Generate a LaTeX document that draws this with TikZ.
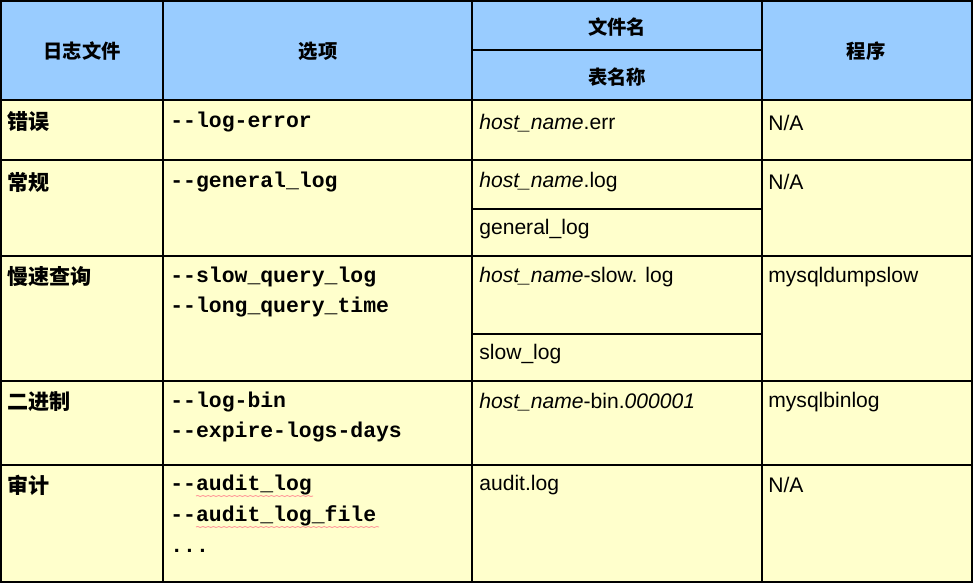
\documentclass[tikz,border=0pt]{standalone}
\usepackage{fontspec}
\setmainfont{Liberation Sans}
\setmonofont{Liberation Mono}
\newfontfamily\cjk{Noto Sans CJK SC}
\usetikzlibrary{decorations.pathmorphing}

\definecolor{headblue}{HTML}{99CCFF}
\definecolor{bodyyellow}{HTML}{FFFFCC}

\begin{document}
\begin{tikzpicture}[x=0.02cm,y=-0.02cm,
    cell/.style={anchor=west,inner sep=0pt,font=\fontsize{12}{14}\selectfont},
    opt/.style={cell,font=\fontsize{12.2}{14}\selectfont\ttfamily\bfseries},
    kind/.style={cell,font=\fontsize{12}{14}\selectfont\cjk\bfseries},
    head/.style={inner sep=0pt,font=\fontsize{11}{13}\selectfont\cjk\bfseries},
    rule/.style={line width=1.1pt},
    thickrule/.style={line width=1.7pt},
    squiggle/.style={red!40,line width=0.5pt,decorate,%
      decoration={snake,amplitude=0.3pt,segment length=3pt}}]
  \useasboundingbox (0,0) rectangle (974,585) ;
  \fill[headblue] (1,1) rectangle (972,100) ;
  \fill[bodyyellow] (1,100) rectangle (972,582) ;
  % grid
  \foreach \y in {160,256,381,465} \draw[rule] (1,\y)--(972,\y) ;
  \foreach \y in {209,334} \draw[rule] (472,\y)--(762,\y) ;
  \draw[thickrule] (472,50)--(762,50) ;
  \draw[thickrule] (1,100)--(972,100) ;
  \foreach \x in {163,472,762} \draw[rule] (\x,1)--(\x,582) ;
  \draw[rule] (1,1) rectangle (972,582) ;
  % header
  \node[head] (hlog) at (82,51) {日志文件} ;
  \node[head] (hopt) at (318,51) {选项} ;
  \node[head] (hfile) at (617,27) {文件名} ;
  \node[head] (htable) at (617,77) {表名称} ;
  \node[head] (hprog) at (866,51) {程序} ;
  % error log
  \node[kind] (kerr) at (7,122) {错误} ;
  \node[opt] (oerr) at (170,122) {--log-error} ;
  \node[cell] (ferr) at (479,123) {\itshape host\_name\upshape.err} ;
  \node[cell] (perr) at (768,123) {N/A} ;
  % general log
  \node[kind] (kgen) at (7,182) {常规} ;
  \node[opt] (ogen) at (170,182) {--general\_log} ;
  \node[cell] (fgen) at (479,182) {\itshape host\_name\upshape.log} ;
  \node[cell] (tgen) at (479,229) {general\_log} ;
  \node[cell] (pgen) at (768,182) {N/A} ;
  % slow query log
  \node[kind] (kslow) at (7,277) {慢速查询} ;
  \node[opt] (oslow) at (170,277) {--slow\_query\_log} ;
  \node[opt] (olong) at (170,307) {--long\_query\_time} ;
  \node[cell] (fslow) at (479,277) {\itshape host\_name\upshape-slow. log} ;
  \node[cell] (tslow) at (479,354) {slow\_log} ;
  \node[cell] (pslow) at (768,277) {mysqldumpslow} ;
  % binary log
  \node[kind] (kbin) at (7,402) {二进制} ;
  \node[opt] (obin) at (170,402) {--log-bin} ;
  \node[opt] (oexp) at (170,432) {--expire-logs-days} ;
  \node[cell] (fbin) at (479,402) {\itshape host\_name\upshape-bin.\itshape 000001} ;
  \node[cell] (pbin) at (768,402) {mysqlbinlog} ;
  % audit log
  \node[kind] (kaud) at (7,485) {审计} ;
  \node[opt] (oaud) at (170,485) {--audit\_log} ;
  \node[opt] (oaudf) at (170,516) {--audit\_log\_file} ;
  \node[opt] (odots) at (170,551) {...} ;
  \node[cell] (faud) at (479,485) {audit.log} ;
  \node[cell] (paud) at (768,485) {N/A} ;
  \draw[squiggle] (196,496)--(313,496) ;
  \draw[squiggle] (196,527)--(379,527) ;
\end{tikzpicture}
\end{document}
